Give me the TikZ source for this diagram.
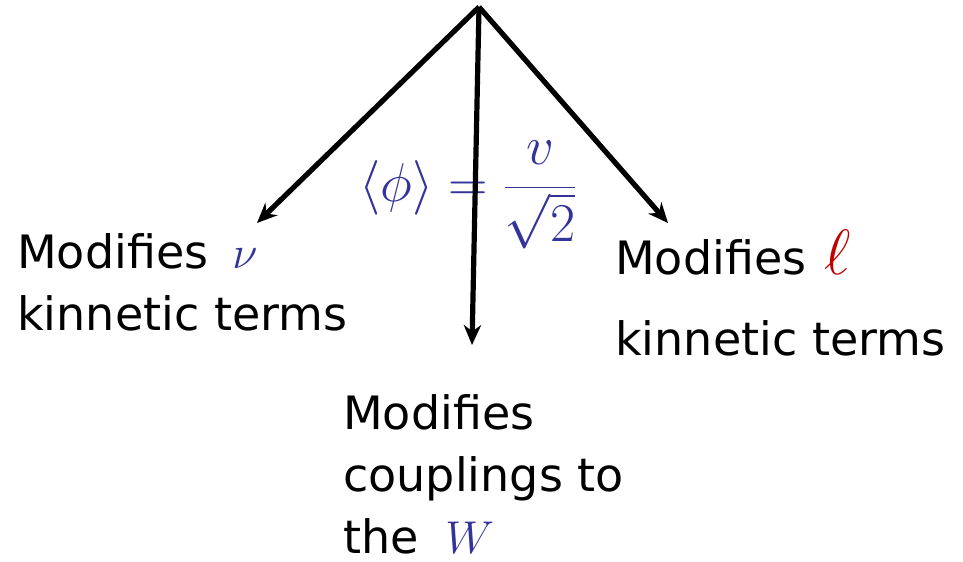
\RequirePackage{fix-cm}
\documentclass[tikz,border=0pt]{standalone}
\usepackage[no-math]{fontspec}
\setmainfont{DejaVu Sans}
\usepackage{amsmath}
\usepackage{tikz}
\usetikzlibrary{arrows.meta, positioning}
\definecolor{myblue}{RGB}{51,51,153}
\definecolor{myred}{RGB}{192,0,0}
\definecolor{mydark}{RGB}{0,0,0}
\tikzset{
  txt/.style={anchor=base west, align=left, inner sep=0pt,
    font=\fontsize{34.5}{46.5}\selectfont},
  eqn/.style={inner sep=0pt, text=myblue, font=\fontsize{41}{43}\selectfont},
  arrow/.style={-{Stealth[length=15pt, width=13pt]}, line width=3.9pt, color=mydark}
}

\begin{document}
\begin{tikzpicture}[x=0.75pt, y=-0.75pt]
  \useasboundingbox (0,0) rectangle (963,561);

  \node[eqn] (vev) at (468,195) {$\langle\phi\rangle = \dfrac{v}{\sqrt{2}}$};

  % anchor is the baseline of the last line
  \node[txt] (nu) at (17,330) {Modifies\hspace{18pt}\textcolor{myblue}{$\nu$}\\kinnetic terms};
  \node[txt] (cw) at (343,553) {Modifies\\couplings to\\the\hspace{20pt}\textcolor{myblue}{$W$}};
  \node[txt, font=\fontsize{34.5}{60.75}\selectfont] (lep) at (615,355)
    {Modifies\hspace{14pt}\textcolor{myred}{\fontsize{48}{50}\selectfont$\ell$}\\kinnetic terms};

  \coordinate (top) at (479,7);
  \coordinate (nutip) at (257,223);
  \coordinate (cwtip) at (472,345);
  \coordinate (leptip) at (668,223);

  \draw[arrow] (top) -- (nutip);
  \draw[arrow] (top) -- (cwtip);
  \draw[arrow] (top) -- (leptip);
\end{tikzpicture}
\end{document}
